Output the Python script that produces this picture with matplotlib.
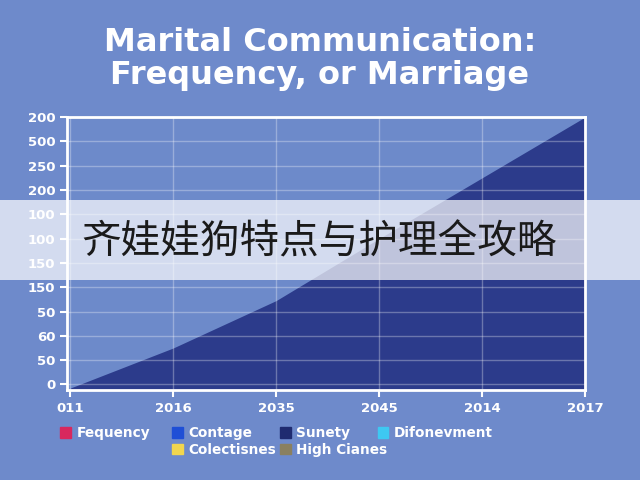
import matplotlib.pyplot as plt
from matplotlib.patches import Patch, Rectangle

# chart data (in tick-index units)
x_labels = ['011', '2016', '2035', '2045', '2014', '2017']
y_labels = ['0', '50', '60', '50', '150', '150', '100', '100', '200', '250', '500', '200']
area_vals = [-0.15, 1.5, 3.45, 6.0, 8.5, 11.0]

legend_names = ['Fequency', 'Contage', 'Colectisnes', 'Sunety', 'High Cianes', 'Difonevment']
legend_colors = ['#d8285e', '#1f4fd6', '#f2d64e', '#1f2b70', '#8a8060', '#3ec8f2']
legend_cols = [[0], [1, 2], [3, 4], [5]]

banner_text = '齐娃娃狗特点与护理全攻略'

bg = '#6e8acb'
navy = '#2c3b8b'

fig = plt.figure(figsize=(6.4, 4.8), dpi=100)
fig.patch.set_facecolor(bg)
ax = fig.add_axes([0.105, 0.188, 0.809, 0.568])
ax.set_facecolor('#6d8aca')

xs = list(range(len(x_labels)))
ax.fill_between(xs, -1, area_vals, color=navy, zorder=2, linewidth=0)

ax.set_xlim(-0.03, 5)
ax.set_ylim(-0.22, 11)
ax.set_xticks(xs)
ax.set_xticklabels(x_labels)
ax.set_yticks(range(len(y_labels)))
ax.set_yticklabels(y_labels)
ax.grid(True, color='white', alpha=0.3, linewidth=1)
ax.set_axisbelow(False)
for s in ax.spines.values():
    s.set_color('white')
    s.set_linewidth(2)
    s.set_zorder(3)
ax.tick_params(colors='white', length=5, width=1.5, labelsize=9.5)
for lbl in ax.get_xticklabels() + ax.get_yticklabels():
    lbl.set_fontweight('bold')
ax.tick_params(axis='x', pad=4)

fig.text(0.5, 0.877, 'Marital Communication:\nFrequency, or Marriage',
         ha='center', va='center', color='white', fontsize=23,
         fontweight='bold', linespacing=1.05)

# legend: four columns placed where the reference has them
col_x = [0.094, 0.269, 0.4375, 0.59]
for cx, idx in zip(col_x, legend_cols):
    leg = fig.legend([Patch(color=legend_colors[i]) for i in idx],
                     [legend_names[i] for i in idx],
                     loc='upper left', bbox_to_anchor=(cx, 0.112),
                     frameon=False, handlelength=0.8, handleheight=0.8,
                     handletextpad=0.4, labelspacing=0.2, borderpad=0, borderaxespad=0,
                     prop={'weight': 'bold', 'size': 9.8})
    for t in leg.get_texts():
        t.set_color('white')

# banner
fig.patches.append(Rectangle((0, 0.417), 1, 0.167, transform=fig.transFigure,
                             facecolor='white', alpha=0.7, edgecolor='none', zorder=5))
fig.text(0.498, 0.494, banner_text, ha='center', va='center', fontsize=28.5,
         color='#1a1a1a', fontweight='light',
         family=['Noto Sans CJK SC', 'DejaVu Sans'], zorder=6)

fig.savefig('out.png', dpi=100, facecolor=bg)
